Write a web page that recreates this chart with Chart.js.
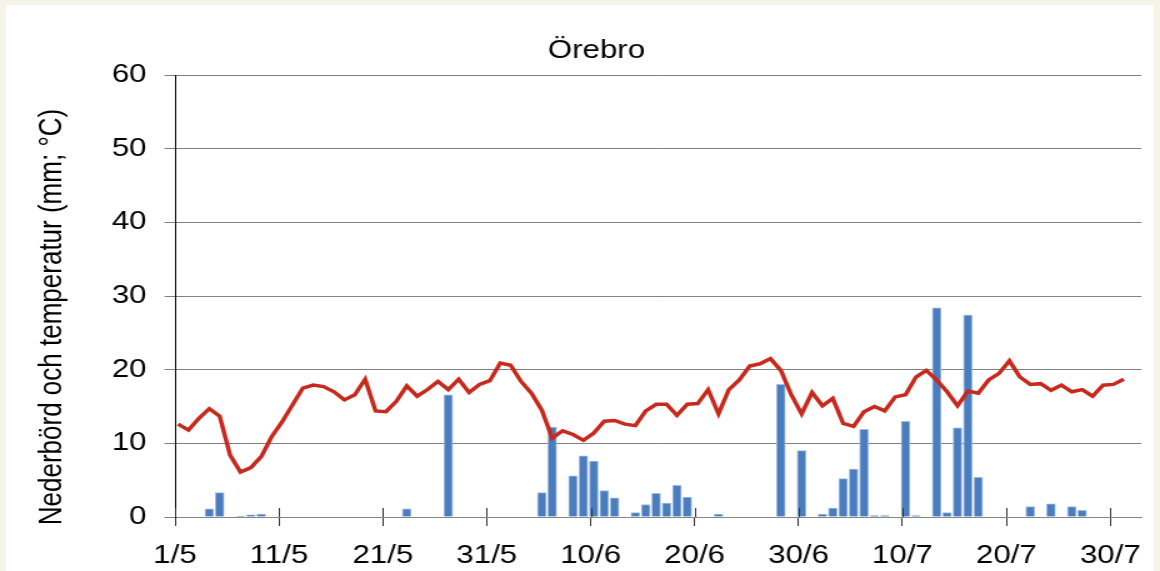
<!DOCTYPE html>
<html>
<head>
<meta charset="utf-8">
<script src="https://cdn.jsdelivr.net/npm/chart.js@4"></script>
<style>
  html, body { margin: 0; padding: 0; }
  body { width: 1160px; height: 571px; background: #f6f3e7; position: relative; overflow: hidden; }
  #panel { position: absolute; left: 6px; top: 5px; width: 1148px; height: 570px; background: #fff; }
  /* the original chart is drawn wide: render at 928px and stretch to 1160px */
  #wrap { position: absolute; left: 0; top: 0; width: 928px; height: 571px; transform: scaleX(1.25); transform-origin: 0 0; }
</style>
</head>
<body>
<div id="panel"></div>
<div id="wrap"><canvas id="myGraph" width="928" height="571"></canvas></div>
<script>
// daily values, 1 May - 31 July
var temperature = [
    12.6, 11.8, 13.4, 14.7, 13.7, 8.4, 6.1, 6.7, 8.2, 10.9,
    12.9, 15.2, 17.5, 17.9, 17.7, 17.0, 15.9, 16.6, 18.7, 14.4,
    14.3, 15.7, 17.8, 16.4, 17.3, 18.4, 17.3, 18.7, 16.9, 18.0,
    18.5, 20.9, 20.6, 18.4, 16.8, 14.5, 10.7, 11.7, 11.2, 10.4,
    11.4, 13.0, 13.1, 12.6, 12.4, 14.4, 15.3, 15.3, 13.8, 15.3,
    15.4, 17.3, 14.0, 17.3, 18.6, 20.5, 20.8, 21.5, 19.9, 16.6,
    14.0, 16.9, 15.1, 16.1, 12.7, 12.3, 14.3, 15.0, 14.4, 16.3,
    16.6, 19.0, 19.9, 18.6, 17.0, 15.1, 17.1, 16.8, 18.6, 19.5,
    21.2, 19.0, 18.0, 18.1, 17.2, 17.9, 17.0, 17.3, 16.4, 17.9,
    18.0, 18.7
]
var precipitation = [
    0, 0, 0, 1.1, 3.3, 0, 0.1, 0.3, 0.4, 0,
    0, 0, 0, 0, 0, 0, 0, 0, 0, 0,
    0, 0, 1.1, 0, 0, 0, 16.6, 0, 0, 0,
    0, 0, 0, 0, 0, 3.3, 12.2, 0, 5.6, 8.3,
    7.6, 3.6, 2.6, 0, 0.6, 1.7, 3.2, 1.9, 4.3, 2.7,
    0, 0, 0.4, 0, 0, 0, 0, 0, 18.0, 0,
    9.0, 0, 0.4, 1.2, 5.2, 6.5, 11.9, 0.2, 0.2, 0,
    13.0, 0.2, 0, 28.4, 0.6, 12.1, 27.4, 5.4, 0, 0,
    0, 0, 1.4, 0, 1.8, 0, 1.4, 0.9, 0, 0,
    0, 0
]
var dateLabels = ['1/5', '11/5', '21/5', '31/5', '10/6', '20/6', '30/6', '10/7', '20/7', '30/7']
var yTicks = [0, 10, 20, 30, 40, 50, 60]
var yTitle = 'Nederbörd och temperatur (mm; °C)'

var dayShift = 0.3 // values sit a bit right of the date tick

var tempPoints = []
var rainPoints = []
for (var i = 0; i < temperature.length; i++) {
    tempPoints.push({ x: i + dayShift, y: temperature[i] })
    rainPoints.push({ x: i + dayShift, y: precipitation[i] > 0 ? precipitation[i] : null })
}

var font = "'Liberation Sans', Arial, sans-serif"

// y title drawn by hand (sits a bit below the middle of the plot) + x ticks crossing the axis
var extras = {
    id: 'extras',
    afterDraw: function (chart) {
        var c = chart.ctx
        var area = chart.chartArea
        c.save()
        c.translate(41.6, 317)
        c.rotate(-Math.PI / 2)
        c.fillStyle = '#000'
        c.font = '26px ' + font
        c.textAlign = 'center'
        c.textBaseline = 'middle'
        c.fillText(yTitle, 0, 0)
        c.restore()

        var xs = chart.scales.x
        c.save()
        c.strokeStyle = '#333'
        c.lineWidth = 1
        c.beginPath()
        xs.ticks.forEach(function (t) {
            var px = Math.round(xs.getPixelForValue(t.value)) + 0.5
            c.moveTo(px, area.bottom - 9)
            c.lineTo(px, area.bottom)
        })
        c.stroke()
        c.restore()
    }
}

var ctx = document.getElementById('myGraph')
var myChart = new Chart(ctx, {
    data: {
        datasets: [
            {
                type: 'line',
                label: 'Temperatur',
                data: tempPoints,
                borderColor: '#c8291d',
                borderWidth: 3.5,
                pointRadius: 0,
                tension: 0,
                order: 0
            },
            {
                type: 'bar',
                label: 'Nederbörd',
                data: rainPoints,
                backgroundColor: '#4a7dbd',
                borderColor: '#a3bde0',
                borderWidth: 1,
                barThickness: 7,
                order: 1
            }
        ]
    },
    options: {
        responsive: false,
        animation: false,
        layout: { padding: { left: 40.8, right: 14.4, top: 0, bottom: 0 } },
        plugins: {
            legend: { display: false },
            tooltip: { enabled: false },
            title: {
                display: true,
                text: 'Örebro',
                color: '#000',
                font: { family: font, size: 25, weight: 'normal' },
                padding: { top: 36.5, bottom: 8.5 }
            }
        },
        scales: {
            x: {
                type: 'linear',
                offset: false,
                min: 0,
                max: 93,
                afterBuildTicks: function (scale) {
                    scale.ticks = dateLabels.map(function (l, k) { return { value: k * 10 } })
                },
                afterFit: function (scale) { scale.height = 54 },
                ticks: {
                    color: '#000',
                    font: { family: font, size: 25 },
                    padding: 15,
                    maxRotation: 0,
                    autoSkip: false,
                    callback: function (value, index) { return dateLabels[index] }
                },
                grid: {
                    offset: false,
                    drawOnChartArea: false,
                    drawTicks: true,
                    tickLength: 9,
                    color: '#333'
                },
                border: { color: '#868686', width: 1 }
            },
            y: {
                min: 0,
                max: 60,
                afterBuildTicks: function (scale) {
                    scale.ticks = yTicks.map(function (v) { return { value: v } })
                },
                afterFit: function (scale) { scale.width = 99.2 },
                ticks: {
                    color: '#000',
                    font: { family: font, size: 25 },
                    padding: 14.4
                },
                grid: {
                    color: '#808080',
                    lineWidth: 1,
                    tickLength: 8.4
                },
                border: { color: '#000', width: 1 }
            }
        }
    },
    plugins: [extras]
})
</script>
</body>
</html>
